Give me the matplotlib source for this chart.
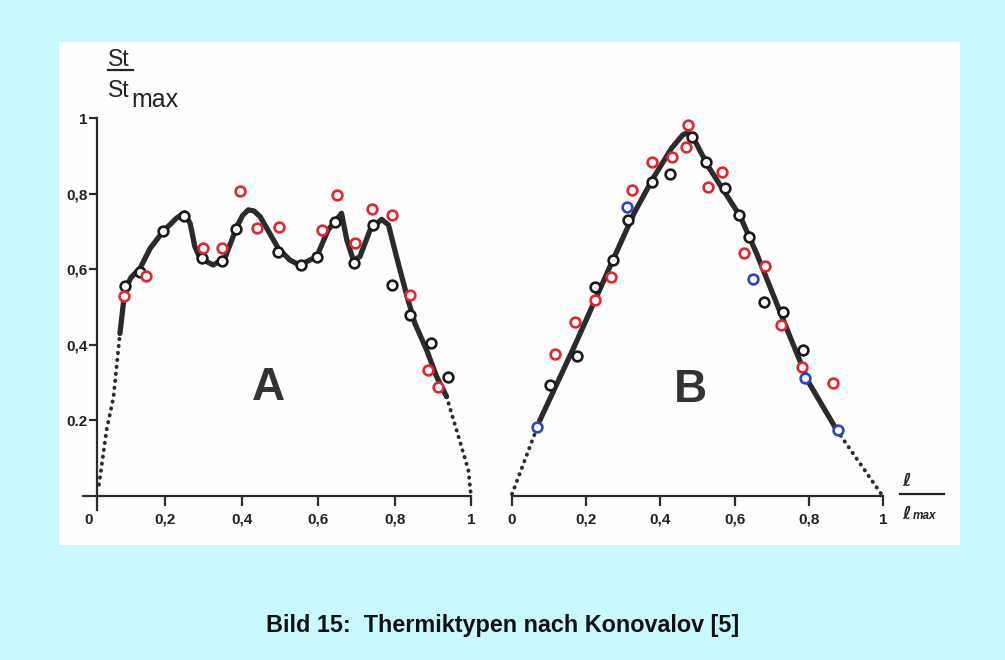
import matplotlib
matplotlib.use("Agg")
import matplotlib.pyplot as plt
from matplotlib.patches import Rectangle
from matplotlib.lines import Line2D

plt.rcParams["font.family"] = ["Liberation Sans", "DejaVu Sans"]

# --- Typ A: mehrgipflige Verteilung ---------------------------------------
a_line_x = [0.081, 0.094, 0.110, 0.134, 0.160, 0.194, 0.229, 0.251, 0.265,
            0.277, 0.290, 0.325, 0.356, 0.387, 0.402, 0.417, 0.432, 0.448,
            0.495, 0.526, 0.552, 0.596, 0.626, 0.644, 0.661, 0.675, 0.692,
            0.709, 0.736, 0.766, 0.784, 0.805, 0.832, 0.853, 0.884, 0.910,
            0.936]
a_line_y = [0.430, 0.545, 0.578, 0.603, 0.655, 0.700, 0.735, 0.749, 0.720,
            0.660, 0.630, 0.611, 0.630, 0.712, 0.742, 0.757, 0.754, 0.739,
            0.656, 0.624, 0.611, 0.633, 0.704, 0.726, 0.748, 0.677, 0.624,
            0.633, 0.704, 0.732, 0.717, 0.633, 0.530, 0.457, 0.386, 0.316,
            0.263]
a_dot_left_x = [0.026, 0.029, 0.046, 0.064, 0.081]
a_dot_left_y = [0.030, 0.050, 0.175, 0.260, 0.430]
a_dot_right_x = [0.936, 0.962, 0.993, 1.000]
a_dot_right_y = [0.263, 0.175, 0.069, 0.000]

a_black_x = [0.094, 0.134, 0.195, 0.249, 0.295, 0.349, 0.384, 0.496, 0.554,
             0.596, 0.644, 0.695, 0.744, 0.794, 0.840, 0.894, 0.941]
a_black_y = [0.555, 0.593, 0.700, 0.740, 0.629, 0.623, 0.706, 0.646, 0.611,
             0.633, 0.724, 0.617, 0.717, 0.558, 0.479, 0.406, 0.316]
a_red_x = [0.092, 0.149, 0.299, 0.347, 0.394, 0.439, 0.497, 0.609, 0.648,
           0.696, 0.740, 0.794, 0.840, 0.888, 0.914]
a_red_y = [0.529, 0.583, 0.657, 0.657, 0.807, 0.708, 0.712, 0.705, 0.796,
           0.668, 0.758, 0.743, 0.532, 0.333, 0.289]

# --- Typ B: eingipflige (dreieckige) Verteilung ---------------------------
b_line_x = [0.075, 0.170, 0.270, 0.330, 0.380, 0.430, 0.460, 0.475, 0.490,
            0.530, 0.615, 0.660, 0.750, 0.800, 0.875]
b_line_y = [0.200, 0.400, 0.620, 0.750, 0.840, 0.920, 0.955, 0.962, 0.945,
            0.870, 0.740, 0.640, 0.420, 0.300, 0.175]
b_dot_left_x = [0.000, 0.075]
b_dot_left_y = [0.005, 0.200]
b_dot_right_x = [0.875, 0.997]
b_dot_right_y = [0.175, 0.003]

b_red_x = [0.475, 0.469, 0.430, 0.377, 0.323, 0.266, 0.224, 0.170, 0.116,
           0.567, 0.527, 0.624, 0.682, 0.724, 0.781, 0.864]
b_red_y = [0.981, 0.924, 0.896, 0.884, 0.810, 0.580, 0.519, 0.459, 0.376,
           0.858, 0.818, 0.644, 0.608, 0.452, 0.342, 0.300]
b_black_x = [0.484, 0.426, 0.378, 0.314, 0.273, 0.224, 0.174, 0.102, 0.523,
             0.574, 0.613, 0.640, 0.679, 0.730, 0.785]
b_black_y = [0.949, 0.852, 0.832, 0.730, 0.624, 0.554, 0.370, 0.294, 0.883,
             0.814, 0.743, 0.686, 0.514, 0.488, 0.386]
b_blue_x = [0.067, 0.309, 0.650, 0.790, 0.880]
b_blue_y = [0.183, 0.765, 0.573, 0.311, 0.175]

x_ticks = [0, 0.2, 0.4, 0.6, 0.8, 1]
x_ticklabels = ["0", "0,2", "0,4", "0,6", "0,8", "1"]
y_ticks = [0.2, 0.4, 0.6, 0.8, 1]
y_ticklabels = ["0.2", "0,4", "0,6", "0,8", "1"]

W, H = 1005, 660
LINE = "#2b2b2b"
RED = "#e3262d"
BLUE = "#2a45c4"


def px(x, y):
    return x / W, 1 - y / H


fig = plt.figure(figsize=(W / 100, H / 100), dpi=100)
fig.patch.set_facecolor("#c8f9fc")
fig.add_artist(Rectangle(px(59, 545), 901 / W, 503 / H, transform=fig.transFigure,
                         facecolor="#fefefe", edgecolor="none", zorder=0))

# axes rects: data 0..1 maps to the measured pixel spans
ax_a = fig.add_axes([69.9 / W, 126.2 / H, 420.2 / W, 453.6 / H])
ax_b = fig.add_axes([493.45 / W, 126.2 / H, 408.1 / W, 453.6 / H])

mk = dict(marker="o", linestyle="none", markersize=7, markeredgewidth=1.9,
          markerfacecolor="white", zorder=4)
dots = dict(color=LINE, linewidth=2.8, linestyle=(0, (0.1, 1.7)),
            dash_capstyle="round", zorder=2)
solid = dict(color=LINE, linewidth=3.8, solid_capstyle="round",
             solid_joinstyle="round", zorder=3)

for ax in (ax_a, ax_b):
    ax.set_facecolor("none")
    ax.set_xlim(-0.05, 1.05)
    ax.set_ylim(-0.1, 1.1)
    for s in ("top", "right"):
        ax.spines[s].set_visible(False)
    ax.spines["bottom"].set_position(("data", 0))
    ax.spines["bottom"].set_linewidth(1.6)
    ax.spines["bottom"].set_color(LINE)
    ax.set_xticks(x_ticks)
    ax.set_xticklabels(x_ticklabels, fontsize=11, fontweight="bold", color="#222")
    ax.tick_params(axis="x", direction="out", length=7, width=1.6, pad=5,
                   color=LINE)

# A
ax_a.plot(a_line_x, a_line_y, **solid)
ax_a.plot(a_dot_left_x, a_dot_left_y, **dots)
ax_a.plot(a_dot_right_x, a_dot_right_y, **dots)
ax_a.plot(a_black_x, a_black_y, markeredgecolor="#1a1a1a", **mk)
ax_a.plot(a_red_x, a_red_y, markeredgecolor=RED, **mk)
ax_a.text(0.469, 0.286, "A", fontsize=33, fontweight="bold", color="#333",
          ha="center", va="center")

ax_a.spines["bottom"].set_bounds(-0.016, 1)
ax_a.spines["left"].set_position(("data", 0.022))
ax_a.spines["left"].set_bounds(-0.037, 1)
ax_a.spines["left"].set_linewidth(1.6)
ax_a.spines["left"].set_color(LINE)
ax_a.set_yticks(y_ticks)
ax_a.set_yticklabels(y_ticklabels, fontsize=11, fontweight="bold", color="#222")
ax_a.tick_params(axis="y", direction="out", length=6, width=1.6, pad=1,
                 color=LINE)
ax_a.xaxis.get_major_ticks()[0].tick1line.set_visible(False)

# B
ax_b.plot(b_line_x, b_line_y, **solid)
ax_b.plot(b_dot_left_x, b_dot_left_y, **dots)
ax_b.plot(b_dot_right_x, b_dot_right_y, **dots)
ax_b.plot(b_black_x, b_black_y, markeredgecolor="#1a1a1a", **mk)
ax_b.plot(b_red_x, b_red_y, markeredgecolor=RED, **mk)
ax_b.plot(b_blue_x, b_blue_y, markeredgecolor=BLUE, **mk)
ax_b.text(0.48, 0.28, "B", fontsize=33, fontweight="bold", color="#333",
          ha="center", va="center")
ax_b.spines["left"].set_visible(False)
ax_b.spines["bottom"].set_bounds(0, 1)
ax_b.set_yticks([])

# y-axis label St / St_max
fig.text(*px(108, 66), "St", fontsize=16.5, color="#222", ha="left",
         va="baseline")
fig.add_artist(Line2D([108 / W, 133 / W], [1 - 70 / H, 1 - 70 / H],
                      transform=fig.transFigure, color="#222", linewidth=1.6))
fig.text(*px(108, 97), "St", fontsize=16.5, color="#222", ha="left",
         va="baseline")
fig.text(*px(131, 107), "max", fontsize=18, color="#222", ha="left",
         va="baseline")

# x-axis label l / l_max
fig.text(*px(907, 486), "\u2113", fontsize=13, fontweight="bold", style="italic",
         color="#222", ha="center", va="baseline", family=["DejaVu Sans"])
fig.add_artist(Line2D([900 / W, 944 / W], [1 - 494 / H, 1 - 494 / H],
                      transform=fig.transFigure, color="#222", linewidth=1.6))
fig.text(*px(902, 519), "\u2113", fontsize=13, fontweight="bold", style="italic",
         color="#222", ha="left", va="baseline", family=["DejaVu Sans"])
fig.text(*px(913, 519), "max", fontsize=8.5, fontweight="bold", style="italic",
         color="#222", ha="left", va="baseline")

fig.text(*px(503, 632), "Bild 15:  Thermiktypen nach Konovalov [5]", fontsize=16.8,
         fontweight="bold", color="#111", ha="center", va="baseline")

fig.savefig("out.png", dpi=100, facecolor=fig.get_facecolor())
